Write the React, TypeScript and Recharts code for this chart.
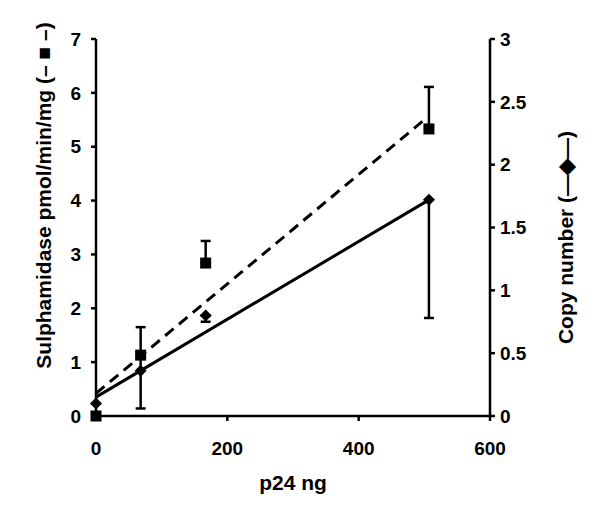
import React from 'react';
import { ComposedChart, Scatter, XAxis, YAxis, ErrorBar } from 'recharts';

// p24 (ng) for each vector dose
const p24 = [0, 68, 167, 507];
// sulphamidase activity (left axis) and its plus error
const sulphamidase = [0, 1.13, 2.84, 5.33];
const sulphErrPlus = [0, 0.52, 0.41, 0.78];
// copy number (right axis) with minus / plus error
const copyNumber = [0.1, 0.36, 0.8, 1.72];
const copyErrMinus = [0, 0.3, 0.05, 0.94];
const copyErrPlus = [0, 0.13, 0, 0];
// linear trend lines, start and end
const sulphTrendX = [0, 497];
const sulphTrendY = [0.42, 5.47];
const copyTrendX = [0, 507];
const copyTrendY = [0.15, 1.72];

const xTicks = [0, 200, 400, 600];
const leftTicks = [0, 1, 2, 3, 4, 5, 6, 7];
const rightTicks = [0, 0.5, 1, 1.5, 2, 2.5, 3];

const sulphData = p24.map((x, i) => ({ x, y: sulphamidase[i], err: [0, sulphErrPlus[i]] }));
const copyData = p24.map((x, i) => ({ x, y: copyNumber[i], err: [copyErrMinus[i], copyErrPlus[i]] }));
const sulphTrend = sulphTrendX.map((x, i) => ({ x, y: sulphTrendY[i] }));
const copyTrend = copyTrendX.map((x, i) => ({ x, y: copyTrendY[i] }));

const FONT = '"Liberation Sans", Arial, sans-serif';
const tickStyle = { fontSize: 19, fontWeight: 700, fill: '#000', fontFamily: FONT };

const SquareDot = (p: any) => <rect x={p.cx - 5.5} y={p.cy - 5.5} width={11} height={11} fill="#000" />;
const DiamondDot = (p: any) => (
  <path d={`M${p.cx},${p.cy - 6}L${p.cx + 6},${p.cy}L${p.cx},${p.cy + 6}L${p.cx - 6},${p.cy}Z`} fill="#000" />
);
const NoDot = () => <g />;

const LeftLabel = (props: any) => {
  const vb = props.viewBox;
  const cx = vb.x + 3;
  const cy = vb.y + vb.height / 2 - 32;
  return (
    <text x={cx} y={cy} transform={`rotate(-90 ${cx} ${cy})`} textAnchor="middle" dominantBaseline="central"
      style={{ fontSize: 21, fontWeight: 700, fontFamily: FONT }} fill="#000">
      Sulphamidase pmol/min/mg (– ■ –)
    </text>
  );
};

const RightLabel = (props: any) => {
  const vb = props.viewBox;
  const cx = vb.x + vb.width + 15;
  const cy = vb.y + vb.height / 2 + 10;
  return (
    <text x={cx} y={cy} transform={`rotate(-90 ${cx} ${cy})`} textAnchor="middle" dominantBaseline="central"
      style={{ fontSize: 21, fontWeight: 700, fontFamily: FONT }} fill="#000">
      Copy number (—◆—)
    </text>
  );
};

export default function App() {
  return (
    <div style={{ position: 'absolute', left: 0, top: 0, background: '#fff' }}>
      <ComposedChart width={600} height={510} margin={{ top: 39, right: 50, bottom: 34, left: 40 }}>
        <XAxis type="number" dataKey="x" domain={[0, 600]} ticks={xTicks} tick={tickStyle}
          axisLine={{ stroke: '#000', strokeWidth: 2.5 }} tickLine={{ stroke: '#000', strokeWidth: 2.5 }}
          tickSize={5} tickMargin={21} height={60}
          label={{ value: 'p24 ng', position: 'insideBottom', offset: -14, style: { fontSize: 21, fontWeight: 700, fill: '#000', fontFamily: FONT } }} />
        <YAxis yAxisId="left" type="number" domain={[0, 7]} ticks={leftTicks} tick={tickStyle} width={56}
          axisLine={{ stroke: '#000', strokeWidth: 2.5 }} tickLine={{ stroke: '#000', strokeWidth: 2.5 }}
          tickSize={5} tickMargin={10} label={{ content: LeftLabel }} />
        <YAxis yAxisId="right" orientation="right" type="number" domain={[0, 3]} ticks={rightTicks} tick={tickStyle} width={60}
          axisLine={{ stroke: '#000', strokeWidth: 2.5 }} tickLine={{ stroke: '#000', strokeWidth: 2.5 }}
          tickSize={5} tickMargin={5} label={{ content: RightLabel }} />
        <Scatter yAxisId="left" data={sulphTrend} dataKey="y" shape={NoDot} line={{ stroke: '#000', strokeWidth: 3, strokeDasharray: '11 7' }}
          isAnimationActive={false} />
        <Scatter yAxisId="right" data={copyTrend} dataKey="y" shape={NoDot} line={{ stroke: '#000', strokeWidth: 3 }}
          isAnimationActive={false} />
        <Scatter yAxisId="right" data={copyData} dataKey="y" shape={DiamondDot} isAnimationActive={false}>
          <ErrorBar dataKey="err" direction="y" width={5} stroke="#000" strokeWidth={2.5} isAnimationActive={false} />
        </Scatter>
        <Scatter yAxisId="left" data={sulphData} dataKey="y" shape={SquareDot} isAnimationActive={false}>
          <ErrorBar dataKey="err" direction="y" width={5} stroke="#000" strokeWidth={2.5} isAnimationActive={false} />
        </Scatter>
      </ComposedChart>
    </div>
  );
}
